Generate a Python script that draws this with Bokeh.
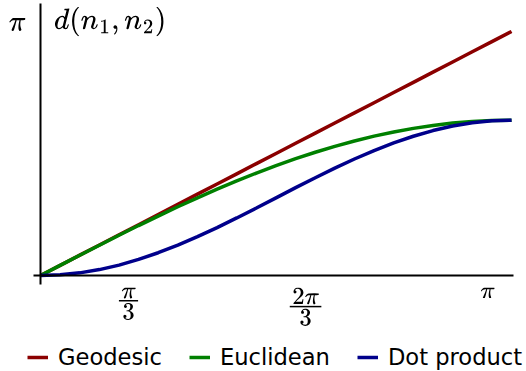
from bokeh.plotting import figure
from bokeh.models import Range1d, FixedTicker, TeX, Label, Legend, LegendItem
from bokeh.embed import file_html
from bokeh.resources import INLINE

# angle between n1 and n2 (radians)
theta = [0.000, 0.131, 0.262, 0.393, 0.524, 0.654, 0.785, 0.916, 1.047, 1.178,
         1.309, 1.440, 1.571, 1.702, 1.833, 1.963, 2.094, 2.225, 2.356, 2.487,
         2.618, 2.749, 2.880, 3.011, 3.142]
geodesic = [0.000, 0.131, 0.262, 0.393, 0.524, 0.654, 0.785, 0.916, 1.047, 1.178,
            1.309, 1.440, 1.571, 1.702, 1.833, 1.963, 2.094, 2.225, 2.356, 2.487,
            2.618, 2.749, 2.880, 3.011, 3.142]
euclidean = [0.000, 0.131, 0.261, 0.390, 0.518, 0.643, 0.765, 0.885, 1.000, 1.111,
             1.218, 1.319, 1.414, 1.504, 1.587, 1.663, 1.732, 1.794, 1.848, 1.894,
             1.932, 1.962, 1.983, 1.996, 2.000]
dot_product = [0.000, 0.009, 0.034, 0.076, 0.134, 0.207, 0.293, 0.391, 0.500, 0.617,
               0.741, 0.869, 1.000, 1.131, 1.259, 1.383, 1.500, 1.609, 1.707, 1.793,
               1.866, 1.924, 1.966, 1.991, 2.000]

series_names = ["Geodesic", "Euclidean", "Dot product"]
series_colors = ["#8b0000", "#008000", "#00008b"]

x_ticks = [0.587, 1.768, 2.982]
x_tick_labels = [r"\tfrac{\lower{0.27em}{\textstyle\pi}}{\raise{0.13em}{\textstyle 3}}",
                 r"\tfrac{\lower{0.27em}{\textstyle 2\pi}}{\raise{0.13em}{\textstyle 3}}",
                 r"\lower{0.15em}{\pi}"]
y_ticks = [3.1416]
y_tick_labels = [r"\pi"]
y_label = r"d(n_1, n_2)"

p = figure(width=526, height=371, output_backend="svg", toolbar_location=None,
           x_range=Range1d(-0.2668, 3.2417), y_range=Range1d(-1.236, 3.5406),
           min_border=0)
p.outline_line_color = None
p.xgrid.visible = False
p.ygrid.visible = False

renderers = []
for ys, col in zip([geodesic, euclidean, dot_product], series_colors):
    renderers.append(p.line(theta, ys, line_color=col, line_width=3.5))

xax = p.xaxis[0]
xax.fixed_location = 0
xax.bounds = (-0.047, 3.155)
xax.ticker = FixedTicker(ticks=x_ticks)
xax.major_label_overrides = {t: TeX(text=l) for t, l in zip(x_ticks, x_tick_labels)}
xax.major_tick_line_color = None
xax.major_tick_out = 9
xax.major_tick_in = 0
xax.minor_tick_line_color = None
xax.axis_line_width = 2
xax.axis_line_color = "black"
xax.major_label_text_font_size = "20px"
xax.major_label_text_color = "black"
xax.major_label_standoff = 3

yax = p.yaxis[0]
yax.fixed_location = 0
yax.bounds = (-0.116, 3.502)
yax.ticker = FixedTicker(ticks=y_ticks)
yax.major_label_overrides = {t: TeX(text=l) for t, l in zip(y_ticks, y_tick_labels)}
yax.major_tick_line_color = None
yax.major_tick_out = 7
yax.major_tick_in = 0
yax.minor_tick_line_color = None
yax.axis_line_width = 2
yax.axis_line_color = "black"
yax.major_label_text_font_size = "24px"
yax.major_label_text_color = "black"
yax.major_label_standoff = 8

p.add_layout(Label(x=0.09, y=3.27, text=TeX(text=y_label), text_font_size="24px",
                   text_color="black", text_baseline="middle", text_align="left"))

lg = Legend(items=[LegendItem(label=n, renderers=[r]) for n, r in zip(series_names, renderers)],
            orientation="horizontal", location=(27, 1), padding=0, margin=0,
            spacing=27, label_standoff=10, glyph_width=21, glyph_height=20,
            border_line_color=None, background_fill_alpha=0,
            label_text_font="DejaVu Sans", label_text_font_size="22.6px",
            label_text_color="black")
p.add_layout(lg, "center")

open("out.html", "w").write(file_html(p, INLINE))
